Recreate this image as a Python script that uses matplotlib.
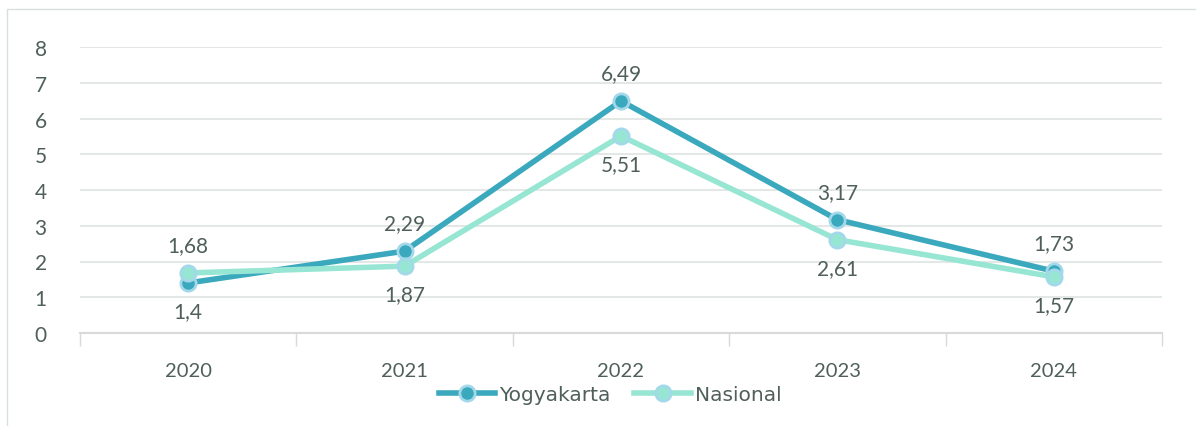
import matplotlib.pyplot as plt
from matplotlib.patches import Rectangle
from matplotlib.ticker import FixedLocator

years = ["2020", "2021", "2022", "2023", "2024"]
yogyakarta = [1.40, 2.29, 6.49, 3.17, 1.73]
nasional = [1.68, 1.87, 5.51, 2.61, 1.57]

plt.rcParams['font.family'] = ['Lato', 'DejaVu Sans']
txt = "#4f5f5a"
c_yog = "#3aa8bd"
c_nas = "#97e6d3"
edge = "#a3d8ea"

fig = plt.figure(figsize=(11.96, 4.27), dpi=100)
ax = fig.add_axes([80 / 1196, 93 / 427, 1082 / 1196, 286 / 427])

# frame around the chart
fig.patches.append(Rectangle((7 / 1196, -0.01), 1.2, (427 - 10) / 427 + 0.01,
                             transform=fig.transFigure, fill=False,
                             edgecolor="#d9dede", linewidth=1))

x = range(len(years))
ax.plot(x, yogyakarta, color=c_yog, lw=4, marker="o", ms=11,
        mfc=c_yog, mec=edge, mew=2, label="Yogyakarta", zorder=3)
ax.plot(x, nasional, color=c_nas, lw=4, marker="o", ms=11,
        mfc=c_nas, mec=edge, mew=2, label="Nasional", zorder=4)

for i, (a, b) in enumerate(zip(yogyakarta, nasional)):
    la = f"{a:g}".replace(".", ",")
    lb = f"{b:g}".replace(".", ",")
    up_a = a >= b
    ax.annotate(la, (i, a), xytext=(0, 13 if up_a else -13), textcoords="offset points",
                ha="center", va="bottom" if up_a else "top", fontsize=15, color=txt)
    ax.annotate(lb, (i, b), xytext=(0, -13 if up_a else 13), textcoords="offset points",
                ha="center", va="top" if up_a else "bottom", fontsize=15, color=txt)

ax.set_xlim(-0.5, len(years) - 0.5)
ax.set_ylim(0, 8)
ax.set_yticks(range(0, 9))
ax.set_xticks(list(x))
ax.set_xticklabels(years)
ax.xaxis.set_minor_locator(FixedLocator([i - 0.5 for i in range(len(years) + 1)]))
ax.tick_params(axis="x", which="major", length=0, pad=21, labelsize=14.5, labelcolor=txt)
ax.tick_params(axis="x", which="minor", length=9, color="#d9d9d9", width=1)
ax.tick_params(axis="y", length=0, pad=24, labelsize=15, labelcolor=txt)
ax.grid(axis="y", color="#e3e8e6", lw=1.5)
ax.set_axisbelow(True)
for s in ["top", "right", "left"]:
    ax.spines[s].set_visible(False)
ax.spines["bottom"].set_color("#d9d9d9")
ax.spines["bottom"].set_linewidth(1.5)

leg = fig.legend(loc="center", bbox_to_anchor=(610 / 1196, 1 - 396 / 427), ncol=2,
                 frameon=False, handlelength=2.8, columnspacing=1.2,
                 handletextpad=0.2, prop={"family": "DejaVu Sans", "size": 14.5})
for t in leg.get_texts():
    t.set_color(txt)

fig.savefig("out.png", dpi=100)
